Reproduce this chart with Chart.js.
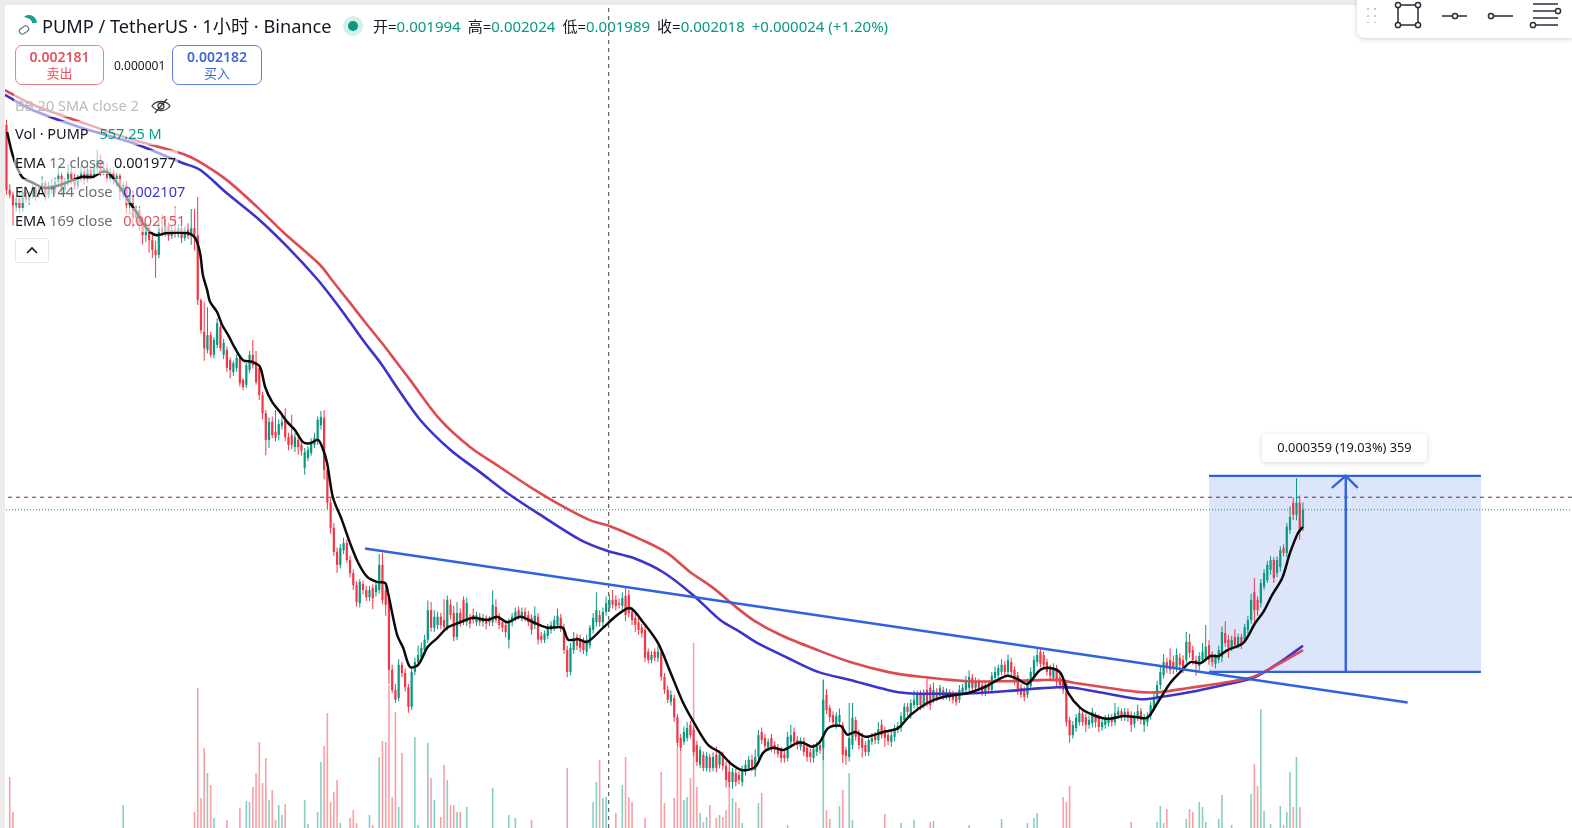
<!DOCTYPE html>
<html lang="zh">
<head>
<meta charset="utf-8">
<title>PUMP / TetherUS 1小时</title>
<script src="https://cdn.jsdelivr.net/npm/chart.js@4/dist/chart.umd.min.js"></script>
<style>
  html, body { margin: 0; padding: 0; background: #fff; overflow: hidden; }
  body { width: 1572px; height: 828px; position: relative; font-family: "Noto Sans", "Noto Sans CJK SC", sans-serif; color: #131722; }
  #chart { position: absolute; left: 0; top: 0; width: 1572px; height: 828px; }
  .edge-top { position: absolute; left: 0; top: 0; width: 1572px; height: 5px; background: #ececec; }
  .edge-left { position: absolute; left: 0; top: 0; width: 5px; height: 828px; background: #ececec; }
  .t { position: absolute; white-space: nowrap; }
  .up { color: #089981; }
  .title { left: 42px; top: 13px; font-size: 18.2px; line-height: 26px; }
  .dot { position: absolute; left: 343px; top: 16px; width: 20px; height: 20px; border-radius: 50%; background: #d5efe9; }
  .dot i { position: absolute; left: 5px; top: 5px; width: 10px; height: 10px; border-radius: 50%; background: #089981; }
  .ohlc { left: 373px; top: 16px; font-size: 15px; line-height: 20px; }
  .ohlc b { font-weight: 400; margin-right: 7px; }
  .trade { position: absolute; top: 45px; height: 40px; width: 89px; background: #fff; border-radius: 7px; text-align: center; box-sizing: border-box; padding-top: 3px; font-size: 13px; line-height: 16px; }
  .trade strong { display: block; font-size: 14px; font-weight: 600; }
  .sell { left: 15px; border: 1px solid #ec7f8a; color: #e9505f; }
  .buy { left: 172px; width: 90px; border: 1px solid #5c7fdc; color: #3d68d8; }
  .spread { left: 114px; top: 57px; font-size: 12px; line-height: 18px; }
  .row { position: absolute; left: 14px; height: 24px; line-height: 24px; font-size: 14.5px; white-space: nowrap; background: rgba(255,255,255,.55); padding: 0 2px 0 1px; }
  .row span { color: #6a6d78; }
  .chev { position: absolute; left: 15px; top: 238px; width: 32px; height: 23px; background: #fff; border: 1px solid #e6e6e6; border-radius: 2px; }
  .tools { position: absolute; left: 1357px; top: 0; width: 215px; height: 38px; background: #fff; border-bottom-left-radius: 8px; box-shadow: 0 1px 5px rgba(0,0,0,.2); }
  .tip { position: absolute; left: 1262px; top: 434px; width: 165px; height: 28px; background: #fff; border-radius: 4px; box-shadow: 0 1px 5px rgba(0,0,0,.16); text-align: center; font-size: 12.8px; line-height: 27px; }
</style>
</head>
<body>
<canvas id="chart" width="1572" height="828"></canvas>
<div class="edge-top"></div>
<div class="edge-left"></div>

<svg style="position:absolute;left:17px;top:14px" width="22" height="22" viewBox="0 0 22 22">
  <path d="M7 3 C11 -1 19 1 20 9 L15 9 C15 6 12 4 7 3 Z" fill="#1f9e8f"/>
  <rect x="2" y="13" width="10" height="6" rx="3" transform="rotate(-35 7 16)" fill="#fff" stroke="#6c7a86" stroke-width="1.2"/>
</svg>
<div class="t title">PUMP / TetherUS · 1小时 · Binance</div>
<div class="dot"><i></i></div>
<div class="t ohlc">开=<b class="up">0.001994</b>高=<b class="up">0.002024</b>低=<b class="up">0.001989</b>收=<b class="up">0.002018</b><b class="up">+0.000024 (+1.20%)</b></div>

<div class="trade sell"><strong>0.002181</strong>卖出</div>
<div class="t spread">0.000001</div>
<div class="trade buy"><strong>0.002182</strong>买入</div>

<div class="row" style="top:93px;color:#b9bbc0">BB 20 SMA close 2
  <svg style="vertical-align:-4px;margin-left:8px" width="20" height="18" viewBox="0 0 20 18" fill="none" stroke="#3a3d46" stroke-width="1.3">
    <path d="M1 9 C5 3 15 3 19 9 C15 15 5 15 1 9 Z"/><circle cx="10" cy="9" r="3"/><path d="M4 16 L16 2"/>
  </svg>
</div>
<div class="row" style="top:121px">Vol · PUMP <span class="up" style="color:#089981;margin-left:7px">557.25 M</span></div>
<div class="row" style="top:150px">EMA <span>12 close</span> <b style="font-weight:400;margin-left:6px">0.001977</b></div>
<div class="row" style="top:179px">EMA <span>144 close</span> <b style="font-weight:400;color:#3b33cc;margin-left:7px">0.002107</b></div>
<div class="row" style="top:208px">EMA <span>169 close</span> <b style="font-weight:400;color:#e0525a;margin-left:7px">0.002151</b></div>
<div class="chev">
  <svg width="32" height="23" viewBox="0 0 32 23" fill="none" stroke="#131722" stroke-width="1.6"><path d="M11 14 L16 9 L21 14"/></svg>
</div>

<div class="tools">
  <svg width="215" height="38" viewBox="0 0 215 38" fill="#fff" stroke="#2a2e39" stroke-width="1.5">
    <g stroke="#b9bbc0" stroke-dasharray="2 5"><path d="M11 8 V23"/><path d="M18 8 V23"/></g>
    <path d="M41 5 H61 V25 H41 Z"/><circle cx="41" cy="5" r="2.6"/><circle cx="61" cy="5" r="2.6"/><circle cx="41" cy="25" r="2.6"/><circle cx="61" cy="25" r="2.6"/>
    <path d="M85 16 H110"/><circle cx="98" cy="16" r="2.6"/>
    <path d="M134 16 H156"/><circle cx="134" cy="16" r="2.6"/>
    <path d="M176 4 H201"/><path d="M176 11 H201"/><circle cx="201" cy="11" r="2.6"/><path d="M176 18 H201"/><path d="M176 25 H201"/><circle cx="176" cy="25" r="2.6"/>
  </svg>
</div>
<div class="tip">0.000359 (19.03%) 359</div>

<script>
// prices are in millionths of a USDT, volumes in millions of PUMP
const opens = [
  2884,2765,2756,2737,2750,2732,2761,2747,2756,2769,
  2758,2765,2778,2756,2774,2765,2780,2791,2765,2780,
  2798,2783,2772,2787,2798,2783,2802,2791,2805,2820,
  2798,2805,2787,2798,2783,2791,2761,2774,2737,2756,
  2714,2728,2701,2682,2695,2673,2655,2646,2695,2688,
  2699,2681,2692,2684,2695,2677,2692,2681,2695,2682,
  2563,2505,2472,2499,2463,2481,2514,2463,2472,2453,
  2431,2439,2457,2417,2408,2435,2463,2450,2439,2389,
  2356,2307,2340,2322,2316,2333,2344,2312,2316,2294,
  2307,2298,2256,2274,2283,2298,2305,2334,2347,2252,
  2192,2146,2102,2078,2105,2118,2087,2063,2041,2008,
  2043,2032,2019,2036,2028,2032,2078,2032,2014,1886,
  1849,1834,1895,1880,1854,1818,1882,1900,1908,1922,
  1941,1995,1963,1968,1983,1977,1964,2005,1990,1946,
  1990,2014,1973,1981,1986,1973,1983,1973,1981,1977,
  1973,2001,1981,1973,1968,1941,1973,1981,1995,1981,
  1992,1986,1981,1968,1983,1948,1941,1948,1959,1963,
  1968,1981,1963,1922,1882,1922,1946,1941,1937,1919,
  1931,1959,1973,1986,1973,1992,1999,2014,2014,2008,
  2003,2021,2023,1992,1981,1973,1963,1959,1919,1904,
  1919,1908,1919,1873,1849,1827,1834,1799,1761,1754,
  1761,1785,1776,1748,1712,1730,1706,1726,1706,1730,
  1712,1730,1710,1699,1680,1697,1693,1680,1699,1706,
  1721,1702,1726,1772,1761,1743,1761,1748,1743,1739,
  1730,1724,1754,1772,1757,1745,1756,1743,1735,1724,
  1735,1748,1743,1840,1816,1803,1785,1790,1785,1739,
  1726,1748,1794,1770,1761,1748,1735,1754,1766,1757,
  1785,1776,1766,1754,1763,1776,1779,1794,1818,1803,
  1821,1821,1840,1821,1849,1853,1831,1845,1838,1849,
  1838,1845,1842,1838,1831,1845,1849,1853,1871,1853,
  1864,1858,1845,1858,1849,1871,1876,1882,1895,1882,
  1900,1886,1876,1853,1849,1840,1856,1876,1900,1919,
  1913,1900,1889,1871,1889,1871,1864,1860,1794,1766,
  1779,1790,1805,1799,1785,1788,1801,1798,1781,1785,
  1788,1798,1790,1803,1810,1799,1809,1803,1787,1798,
  1810,1785,1790,1801,1816,1834,1858,1876,1900,1904,
  1900,1889,1908,1904,1904,1937,1922,1904,1893,1904,
  1908,1931,1913,1897,1904,1909,1953,1941,1926,1946,
  1931,1946,1941,1959,1977,2028,2014,2008,2038,2050,
  2069,2087,2063,2074,2109,2100,2142,2192,2170,2192,
  2148
];
const closes = [
  2765,2756,2737,2750,2732,2761,2747,2756,2769,2758,
  2765,2778,2756,2774,2765,2780,2791,2765,2780,2798,
  2783,2772,2787,2798,2783,2802,2791,2805,2820,2798,
  2805,2787,2798,2783,2791,2761,2774,2737,2756,2714,
  2728,2701,2682,2695,2673,2655,2646,2695,2688,2699,
  2681,2692,2684,2695,2677,2692,2681,2695,2682,2563,
  2508,2475,2499,2463,2490,2521,2475,2485,2439,2435,
  2448,2457,2411,2404,2444,2463,2444,2413,2389,2356,
  2307,2340,2316,2311,2336,2340,2312,2298,2298,2312,
  2294,2287,2285,2289,2301,2311,2344,2349,2252,2192,
  2146,2102,2078,2109,2118,2087,2063,2041,2010,2047,
  2032,2019,2032,2017,2041,2078,2014,2005,1886,1849,
  1831,1895,1880,1854,1818,1882,1900,1913,1926,1941,
  1995,1963,1983,1983,1968,1964,2014,1986,1946,1990,
  1973,1977,2008,1970,1977,1986,1973,1981,1970,1973,
  2005,1977,1968,1963,1955,1973,1983,1992,1985,1992,
  1983,1973,1959,1985,1941,1941,1952,1963,1968,1977,
  1985,1963,1922,1882,1926,1941,1930,1926,1922,1941,
  1963,1981,1995,1973,1992,2008,2014,2005,2003,2005,
  2017,1986,1990,1977,1968,1959,1953,1908,1904,1913,
  1908,1919,1873,1849,1831,1840,1799,1752,1743,1772,
  1779,1766,1735,1717,1739,1706,1728,1706,1726,1706,
  1730,1710,1684,1680,1699,1680,1684,1702,1712,1721,
  1708,1726,1766,1757,1746,1754,1743,1739,1732,1724,
  1724,1763,1766,1754,1748,1756,1735,1726,1726,1741,
  1748,1739,1831,1812,1799,1790,1801,1803,1730,1728,
  1761,1798,1763,1748,1743,1735,1757,1761,1757,1777,
  1766,1761,1755,1766,1779,1783,1801,1818,1809,1825,
  1831,1840,1821,1843,1825,1821,1849,1834,1853,1838,
  1845,1834,1831,1827,1849,1853,1867,1873,1853,1864,
  1853,1845,1858,1849,1875,1882,1889,1895,1882,1904,
  1882,1864,1849,1840,1836,1862,1882,1904,1913,1897,
  1895,1882,1875,1889,1864,1858,1849,1790,1766,1785,
  1798,1807,1790,1785,1794,1809,1790,1781,1790,1796,
  1798,1790,1807,1810,1799,1809,1798,1785,1801,1810,
  1794,1798,1801,1821,1836,1858,1882,1900,1889,1886,
  1889,1913,1895,1889,1937,1917,1904,1897,1911,1919,
  1928,1904,1900,1909,1922,1955,1935,1926,1941,1931,
  1946,1931,1964,1977,2014,1995,1995,2045,2063,2078,
  2087,2054,2087,2105,2100,2148,2166,2170,2192,2138,
  2179
];
const highs = [
  2893,2775,2762,2755,2762,2768,2772,2762,2775,2778,
  2771,2790,2782,2780,2785,2788,2805,2798,2786,2812,
  2808,2795,2793,2810,2806,2812,2808,2815,2838,2830,
  2818,2812,2806,2803,2797,2795,2780,2782,2762,2765,
  2736,2735,2715,2705,2700,2685,2672,2710,2720,2712,
  2706,2700,2735,2703,2700,2698,2704,2730,2730,2752,
  2566,2560,2550,2505,2495,2530,2520,2492,2478,2458,
  2452,2464,2462,2420,2448,2470,2490,2470,2445,2395,
  2362,2348,2350,2362,2345,2352,2365,2320,2353,2320,
  2312,2304,2292,2296,2310,2320,2350,2360,2362,2260,
  2200,2155,2110,2116,2128,2124,2095,2070,2048,2052,
  2050,2040,2040,2042,2048,2098,2100,2040,2022,1895,
  1860,1905,1900,1888,1860,1890,1908,1930,1936,1950,
  2013,2010,1995,1992,1990,2015,2022,2015,2003,2010,
  1998,2020,2018,1988,1998,1992,1990,1988,1986,1984,
  2031,2015,1990,1980,1975,1980,1990,2000,2002,2000,
  2000,1994,1987,2002,1990,1955,1958,1970,1975,1985,
  1998,1988,1970,1930,1935,1955,1952,1950,1945,1950,
  1968,1990,2028,1995,2000,2020,2024,2032,2022,2016,
  2028,2038,2032,2000,1988,1980,1970,1965,1925,1920,
  1925,1930,1926,1880,1856,1848,1840,1805,1768,1782,
  1790,1792,1782,1756,1746,1736,1735,1732,1735,1745,
  1738,1736,1718,1720,1706,1704,1700,1710,1720,1728,
  1730,1740,1776,1780,1768,1760,1768,1755,1750,1745,
  1738,1772,1785,1780,1764,1762,1762,1750,1742,1750,
  1754,1755,1868,1850,1822,1810,1808,1815,1790,1745,
  1825,1825,1800,1776,1770,1755,1765,1770,1772,1790,
  1795,1782,1772,1775,1785,1790,1808,1825,1825,1832,
  1848,1848,1848,1850,1870,1860,1862,1852,1858,1855,
  1852,1850,1848,1845,1858,1860,1875,1885,1878,1872,
  1870,1864,1865,1865,1882,1892,1895,1905,1902,1914,
  1908,1892,1882,1860,1855,1870,1890,1912,1925,1927,
  1920,1906,1895,1898,1895,1878,1870,1866,1800,1792,
  1805,1818,1812,1806,1802,1816,1808,1804,1798,1803,
  1805,1805,1825,1818,1815,1816,1815,1810,1808,1822,
  1816,1805,1808,1828,1842,1866,1892,1915,1908,1925,
  1912,1925,1916,1912,1955,1952,1930,1912,1918,1935,
  1968,1940,1920,1915,1930,1965,1975,1950,1948,1960,
  1952,1952,1970,1985,2025,2054,2020,2052,2070,2085,
  2094,2092,2094,2112,2116,2155,2185,2202,2237,2205,
  2193
];
const lows = [
  2756,2750,2700,2725,2722,2725,2742,2738,2750,2745,
  2750,2755,2745,2750,2758,2758,2772,2755,2758,2772,
  2775,2765,2766,2780,2775,2778,2784,2786,2798,2790,
  2792,2778,2780,2775,2770,2745,2750,2722,2720,2695,
  2705,2690,2665,2670,2650,2640,2604,2640,2680,2680,
  2672,2675,2678,2678,2668,2672,2675,2664,2654,2554,
  2502,2452,2466,2458,2456,2475,2470,2455,2432,2420,
  2424,2432,2405,2398,2402,2430,2438,2408,2380,2345,
  2279,2292,2310,2304,2306,2326,2305,2288,2290,2285,
  2280,2278,2243,2268,2278,2292,2298,2326,2235,2180,
  2135,2095,2063,2072,2098,2082,2055,2032,2002,2000,
  2024,2012,2012,1997,2020,2025,2006,1985,1860,1843,
  1825,1828,1872,1846,1807,1812,1876,1893,1900,1915,
  1935,1956,1955,1960,1960,1955,1958,1978,1938,1940,
  1965,1968,1966,1962,1970,1966,1966,1965,1960,1966,
  1966,1972,1960,1955,1945,1925,1965,1975,1978,1975,
  1975,1966,1950,1960,1932,1935,1935,1942,1952,1957,
  1962,1955,1915,1872,1876,1915,1922,1918,1915,1912,
  1925,1952,1965,1965,1965,1985,1992,1998,1995,1998,
  1996,1975,1982,1968,1955,1950,1945,1900,1898,1898,
  1902,1900,1866,1842,1825,1820,1790,1745,1736,1748,
  1755,1760,1728,1710,1706,1700,1700,1698,1700,1698,
  1705,1702,1670,1670,1668,1672,1676,1672,1692,1700,
  1700,1690,1716,1750,1740,1737,1736,1732,1725,1716,
  1716,1718,1748,1746,1740,1738,1728,1718,1716,1716,
  1728,1732,1720,1805,1790,1782,1778,1783,1715,1712,
  1718,1740,1756,1740,1725,1728,1728,1748,1750,1750,
  1760,1745,1748,1745,1755,1770,1772,1788,1802,1796,
  1815,1815,1812,1815,1818,1812,1825,1828,1832,1830,
  1832,1828,1824,1820,1825,1840,1842,1846,1846,1848,
  1846,1838,1838,1842,1842,1865,1870,1876,1875,1876,
  1875,1858,1840,1834,1828,1834,1850,1870,1893,1890,
  1888,1875,1868,1865,1855,1850,1842,1782,1752,1760,
  1772,1784,1783,1772,1778,1780,1780,1772,1774,1778,
  1782,1782,1784,1796,1792,1792,1790,1772,1780,1792,
  1786,1772,1782,1795,1810,1826,1850,1870,1880,1878,
  1878,1882,1885,1880,1898,1908,1895,1875,1885,1898,
  1900,1895,1892,1888,1898,1900,1928,1908,1920,1925,
  1925,1924,1935,1952,1970,1975,1985,2000,2032,2045,
  2060,2045,2056,2066,2094,2092,2135,2160,2160,2124,
  2140
];

// volume tops that show above the bottom of the frame
const volumeBars = [
  1,2,36,58,59,60,61,62,63,64,68,72,74,75,76,77,78,79,80,81,82,83,84,85,86,92,93,96,97,98,99,100,101,102,103,
  106,107,108,112,113,115,116,117,118,119,120,121,122,126,127,130,131,132,134,135,136,137,138,139,140,142,150,155,157,162,
  173,181,182,183,184,185,188,190,191,192,193,197,202,203,206,207,208,209,210,211,212,213,214,215,216,217,219,220,221,222,
  223,224,225,226,227,232,233,241,252,253,254,257,258,260,261,271,276,280,285,286,297,307,315,317,318,326,327,328,347,
  355,356,357,358,364,365,366,368,369,370,374,375,378,384,385,386,387,388,390,393,394,395,396,397,398,399
];
const volumes = [
  819,364,455,364,1976,546,1196,871,715,286,260,416,507,494,689,871,1274,741,1066,520,650,260,455,325,468,520,208,364,1014,1222,1651,494,624,780,221,
  286,390,221,325,195,1079,1287,1274,2015,559,1664,429,1131,1339,195,1261,806,520,299,975,780,455,455,364,364,429,676,325,286,260,
  936,494,754,1040,546,559,351,715,1079,559,494,286,884,481,546,1209,1144,520,559,806,2561,689,351,234,299,455,286,325,299,390,
  780,546,494,416,221,481,611,195,2080,390,273,442,650,871,260,338,221,260,234,247,195,273,221,286,351,559,494,702,234,
  234,442,221,403,273,403,364,494,429,234,273,585,195,598,988,702,1703,377,208,442,195,364,884,429,1079,429
];

const ema12Bars = [
  0.2,1.7,3.2,5.1,8.2,11.3,13.4,16.5,20.5,23.6,26.7,29.5,31,32.9,35.6,38.1,40.3,42.1,44.3,46.4,49.5,55.7,58.2,59.7,60.6,61.9,62.8,
  65,66.5,68.4,70.5,73,75.8,78.2,79.8,81.9,84.4,86.6,89,91.5,93.7,96.1,97.4,98.9,100.7,103.5,106,108.5,111.3,114.3,116.8,117.7,
  120.5,122.4,124.5,127,130,132.9,136,140,144,148.3,151.4,154.5,158.5,162.5,166.8,171.5,173.3,176.4,179.2,184.1,188.4,192.4,196.4,
  201,204.8,208.8,212.5,216.5,220.2,223.3,227,231,233.5,236.6,239.7,244,245.8,248.6,251,253.5,257.3,259.4,261.9,265,270.5,275.1,
  278.9,284.1,289,296.4,301.4,305.7,308.8,311.9,315,319,322,325.2,327.6,331.3,335.3,339.7,344.6,348.9,352,355.1,359.1,362.2,
  365.3,368.4,371.4,373.9,376.7,381.6,385.3,387.8,390.5,393.6,396,398.5,400
];
const ema12 = [
  2871,2833,2807,2787,2778,2769,2769,2774,2783,2789,2789,2798,2798,2787,2765,2741,2723,2704,2688,2682,2686,2686,2677,2650,2609,2582,2560,
  2541,2518,2499,2475,2453,2450,2441,2404,2377,2358,2340,2325,2303,2301,2307,2294,2265,2202,2160,2118,2082,2056,2047,2045,2027,
  1950,1926,1891,1895,1928,1944,1963,1973,1981,1977,1983,1973,1983,1973,1963,1963,1941,1942,1937,1963,1986,1999,1973,
  1935,1882,1825,1785,1748,1734,1715,1702,1708,1734,1743,1739,1752,1752,1745,1754,1779,1783,1767,1772,1763,1772,1779,
  1803,1825,1836,1843,1853,1867,1875,1869,1860,1886,1889,1880,1843,1816,1803,1796,1801,1799,1798,1825,1862,1882,
  1900,1898,1911,1911,1922,1935,1972,1992,2023,2054,2100,2137,2148
];
const ema144Bars = [
  -0.5,8.2,23.6,39,54.5,59.7,68,77.3,86.6,96.1,101.4,106,110.6,115.9,119.9,127.6,136.9,146.1,155.4,164.6,177,185.3,193.3,202.5,
  211.8,220.2,226.4,231.6,240.9,250.4,260.3,271.8,278,288.1,298.3,308.8,316.8,324.2,329.2,339.7,349.9,356,365.3,375.5,384.7,393,400
];
const ema144 = [
  2939,2911,2878,2851,2814,2802,2759,2714,2661,2600,2560,2523,2485,2444,2408,2344,2289,2248,2206,2170,2124,2104,2091,2065,
  2023,1977,1955,1935,1908,1882,1867,1849,1843,1842,1843,1847,1851,1854,1853,1842,1832,1836,1845,1858,1871,1900,1930
];
const ema169Bars = [
  -0.5,8.2,23.6,39,54.5,59.7,68,77.3,85.3,96.7,100.4,106,110.6,115.9,119.9,124.5,133.8,143,152.3,161.5,170.8,180,186.2,196,203.8,
  210.9,218,224.2,230.4,238.7,250.2,260.3,271.8,282,296.4,308.8,319,325.2,329.2,339.7,349.9,356,365.3,375.5,384.7,393,400
];
const ema169 = [
  2948,2921,2888,2857,2831,2816,2783,2734,2688,2628,2600,2558,2523,2484,2453,2417,2344,2294,2257,2221,2188,2160,2149,2124,2100,
  2065,2036,2005,1977,1950,1922,1900,1882,1873,1865,1865,1867,1867,1862,1853,1845,1845,1853,1862,1873,1898,1922
];

// drawings on the chart
const trendBars = [110.6, 432.3];
const trendPrices = [2108, 1826];
const boxBars = [371, 454.9];
const boxTop = 2241;
const boxBottom = 1882;
const arrowBar = 413.2;
const arrowHeadBars = [408.9, 413.2, 416.9];
const arrowHeadPrices = [2219, 2241, 2219];
const crosshairBar = 185.8;
const crosshairPrice = 2202;
const lastPrice = 2179;

const UP = '#089981';
const DOWN = '#f23645';
const UP_VOL = 'rgba(8,153,129,0.48)';
const DOWN_VOL = 'rgba(242,54,69,0.48)';
const BLUE_TOOL = '#2f62de';

function pairs(xs, ys) {
  return xs.map((x, i) => ({ x, y: ys[i] }));
}

function line(data, color, width, extra) {
  return Object.assign({
    type: 'line',
    data,
    borderColor: color,
    borderWidth: width,
    pointRadius: 0,
    fill: false,
    tension: 0,
  }, extra);
}

const candleColors = closes.map((c, i) => (c >= opens[i] ? UP : DOWN));

new Chart(document.getElementById('chart'), {
  data: {
    datasets: [
      // measure box, lowest layer
      line(pairs(boxBars, [boxTop, boxTop]), BLUE_TOOL, 2.2, { order: 12, fill: { value: boxBottom }, backgroundColor: 'rgba(47,98,222,0.165)' }),
      {
        type: 'bar',
        yAxisID: 'yVol',
        order: 10,
        data: pairs(volumeBars, volumes),
        backgroundColor: volumeBars.map(i => (closes[i] >= opens[i] ? UP_VOL : DOWN_VOL)),
        barThickness: 1.6,
        grouped: false,
        inflateAmount: 0,
      },
      line(pairs([crosshairBar, crosshairBar], [1596, 3113]), '#444', 1, { order: 9, borderDash: [4, 4] }),
      line(pairs([-2, 483], [crosshairPrice, crosshairPrice]), '#444', 1, { order: 9, borderDash: [4, 4] }),
      line(pairs([-2, 483], [lastPrice, lastPrice]), UP, 1, { order: 9, borderDash: [1, 2] }),
      {
        type: 'bar',
        order: 7,
        data: highs.map((h, i) => ({ x: i, y: [lows[i], h] })),
        backgroundColor: candleColors,
        barThickness: 1,
        grouped: false,
        inflateAmount: 0,
      },
      {
        type: 'bar',
        order: 6,
        data: opens.map((o, i) => ({ x: i, y: [o, closes[i]] })),
        backgroundColor: candleColors,
        barThickness: 2.2,
        grouped: false,
        inflateAmount: 0,
        borderSkipped: false,
      },
      line(pairs(ema144Bars, ema144), '#3b33cc', 2.6, { order: 5, tension: 0.3 }),
      line(pairs(ema169Bars, ema169), '#de4a52', 2.6, { order: 4, tension: 0.3 }),
      line(pairs(ema12Bars, ema12), '#0b0b0b', 2.5, { order: 3, tension: 0.3 }),
      line(pairs(trendBars, trendPrices), BLUE_TOOL, 2.4, { order: 2 }),
      line(pairs(boxBars, [boxBottom, boxBottom]), BLUE_TOOL, 2.2, { order: 2 }),
      line(pairs([arrowBar, arrowBar], [boxBottom, boxTop]), BLUE_TOOL, 2.4, { order: 2 }),
      line(pairs(arrowHeadBars, arrowHeadPrices), BLUE_TOOL, 2.4, { order: 2 }),
    ],
  },
  options: {
    responsive: false,
    animation: false,
    layout: { padding: 0 },
    plugins: { legend: { display: false }, tooltip: { enabled: false } },
    events: [],
    scales: {
      x: { type: 'linear', offset: false, min: -2, max: 483, display: false },
      y: { type: 'linear', min: 1596, max: 3113, display: false },
      yVol: { type: 'linear', min: 156, max: 10920, display: false },
    },
  },
});
</script>
</body>
</html>
